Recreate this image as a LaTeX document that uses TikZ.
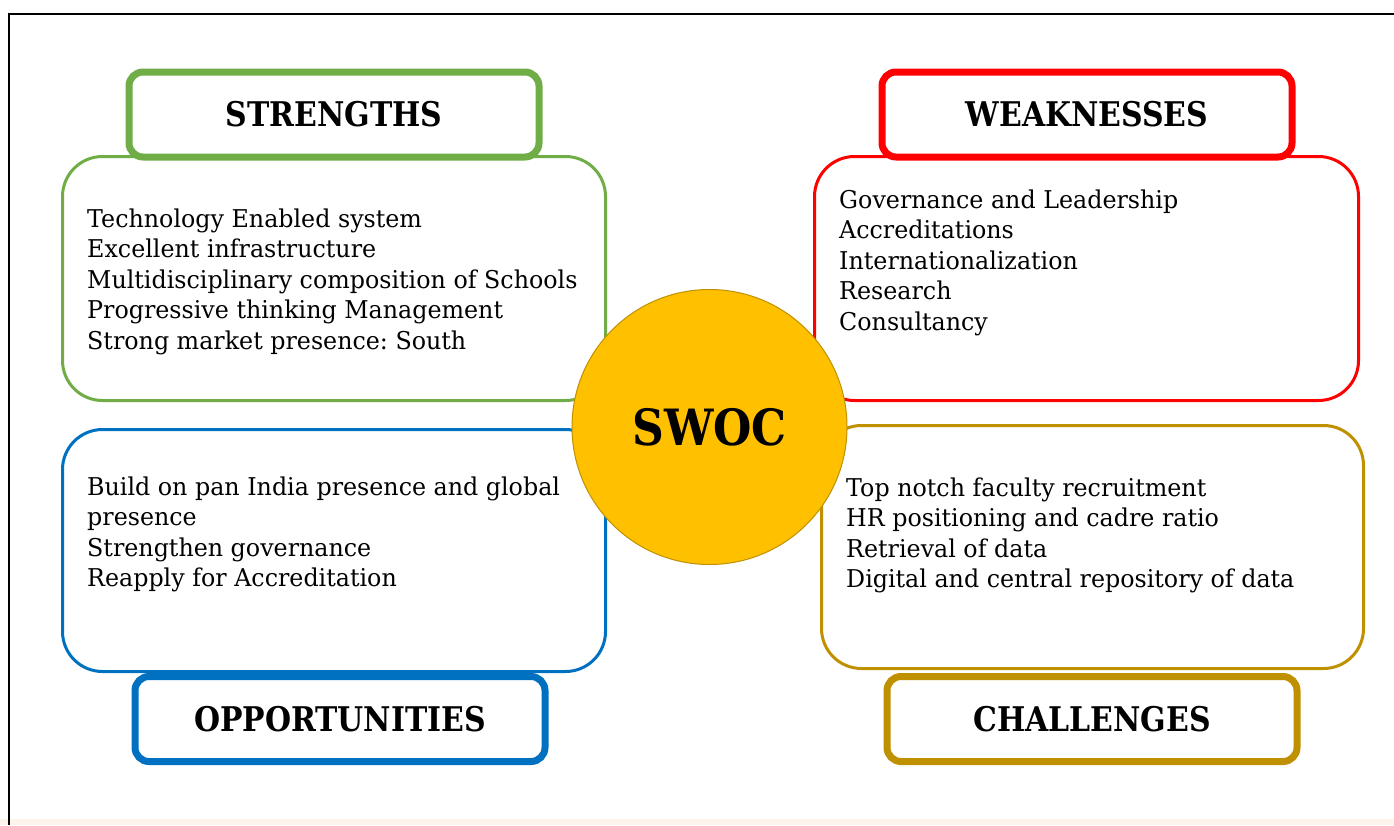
\documentclass[tikz,border=0pt]{standalone}
\usepackage{fontspec}
\setmainfont{DejaVu Serif}
\newfontfamily\bodyfont{DejaVu Serif}[FakeStretch=0.97]
\newfontfamily\headfont{DejaVu Serif}[FakeStretch=0.88]
\frenchspacing
\definecolor{sgreen}{HTML}{70AD47}
\definecolor{wred}{HTML}{FF0000}
\definecolor{oblue}{HTML}{0070C0}
\definecolor{cgold}{HTML}{BF9000}
\definecolor{swocfill}{HTML}{FFC000}
\definecolor{peach}{HTML}{FDF4EC}
\begin{document}
\begin{tikzpicture}[x=1pt,y=-1pt,
  bodybox/.style={draw, line width=3pt, fill=white, rounded corners=40pt, inner sep=0pt},
  hdrbox/.style={draw, line width=7pt, fill=white, rounded corners=14pt, inner sep=0pt,
    minimum width=410pt, minimum height=85pt,
    font=\headfont\fontsize{34}{40}\selectfont\bfseries},
  bodytext/.style={anchor=west, align=left, inner sep=0pt,
    font=\bodyfont\fontsize{24.5}{30.5}\selectfont\frenchspacing},
]
\useasboundingbox (0,0) rectangle (1394,825);
\fill[white] (0,0) rectangle (1394,825);
\fill[peach] (0,819) rectangle (1394,825);
\coordinate (ftl) at (9,14);
\coordinate (ftr) at (1394,14);
\coordinate (fbl) at (9,825);
\draw[line width=2pt] (ftr) -- (ftl) -- (fbl);

% bodies
\node[bodybox, draw=sgreen, minimum width=543pt, minimum height=244pt] (sb) at (334,278.5) {};
\node[bodybox, draw=wred, minimum width=544pt, minimum height=244pt] (wb) at (1086.5,278.5) {};
\node[bodybox, draw=oblue, minimum width=543pt, minimum height=242pt] (ob) at (334,550.5) {};
\node[bodybox, draw=cgold, minimum width=542pt, minimum height=243pt] (cb) at (1092.5,547) {};

% headers
\node[hdrbox, draw=sgreen] (sh) at (334,114.5) {STRENGTHS};
\node[hdrbox, draw=wred] (wh) at (1087,114.5) {WEAKNESSES};
\node[hdrbox, draw=oblue] (oh) at (340,719) {OPPORTUNITIES};
\node[hdrbox, draw=cgold] (ch) at (1092,719) {CHALLENGES};

% texts
\node[bodytext] (st) at (87,281.8) {Technology Enabled system\\Excellent infrastructure\\Multidisciplinary composition of Schools\\Progressive thinking Management\\Strong market presence: South};
\node[bodytext] (wt) at (839,262.8) {Governance and Leadership\\Accreditations\\Internationalization\\Research\\Consultancy};
\node[bodytext] (ot) at (87,534.5) {Build on pan India presence and global\\presence\\Strengthen governance\\Reapply for Accreditation};
\node[bodytext] (ct) at (846,535.5) {Top notch faculty recruitment\\HR positioning and cadre ratio\\Retrieval of data\\Digital and central repository of data};

% centre
\node[circle, draw=cgold, line width=1pt, fill=swocfill, minimum size=275pt, inner sep=0pt,
  font=\headfont\fontsize{50}{60}\selectfont\bfseries] (swoc) at (709.5,427) {SWOC};
\end{tikzpicture}
\end{document}
